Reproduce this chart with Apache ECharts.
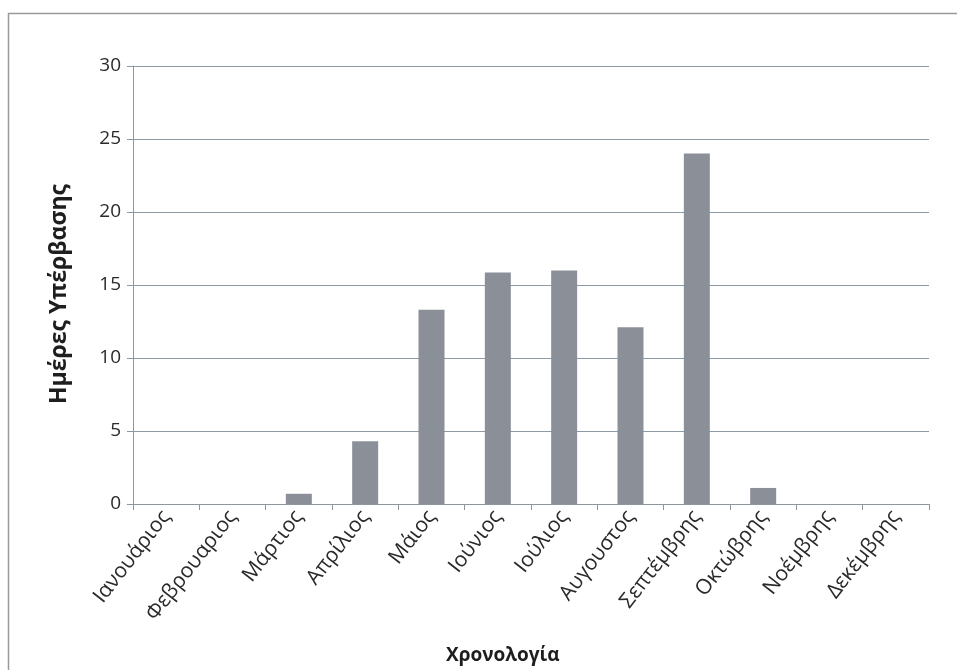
<!DOCTYPE html>
<html>
<head>
<meta charset="utf-8">
<script src="https://cdn.jsdelivr.net/npm/echarts@6/dist/echarts.min.js"></script>
<style>html,body{margin:0;padding:0;background:#fff}#c{width:957px;height:670px}</style>
</head>
<body>
<div id="c"></div>
<script>
const months = ["Ιανουάριος","Φεβρουαριος","Μάρτιος","Απρίλιος","Μάιος","Ιούνιος","Ιούλιος","Αυγουστος","Σεπτέμβρης","Οκτώβρης","Νοέμβρης","Δεκέμβρης"];
const exceedDays = [0, 0, 0.7, 4.3, 13.3, 15.85, 16.0, 12.1, 24.0, 1.1, 0, 0];
const yTitle = "Ημέρες Υπέρβασης";
const xTitle = "Χρονολογία";

const font = "Open Sans";
const chart = echarts.init(document.getElementById('c'), null, {renderer:'canvas'});
chart.setOption({
  animation: false,
  backgroundColor: '#fff',
  textStyle: {fontFamily: font},
  graphic: [{
    type: 'rect', shape: {x: 8.5, y: 13.5, width: 1000, height: 700},
    style: {fill: 'none', stroke: '#9a9a9a', lineWidth: 1.5}, silent: true
  }, {
    type: 'text', left: 446, top: 646, silent: true,
    style: {text: xTitle, font: 'bold 19px "Open Sans"', fill: '#1e1e1e'}
  }],
  grid: {left: 133, right: 28, top: 66, bottom: 166, containLabel: false},
  xAxis: {
    type: 'category', data: months,
    axisLine: {lineStyle: {color: '#8f969c', width: 1}},
    axisTick: {show: true, alignWithLabel: false, length: 6, lineStyle: {color: '#8f969c'}},
    axisLabel: {rotate: 52, fontSize: 21, color: '#2a2a2a', margin: 9, interval: 0, fontFamily: font}
  },
  yAxis: {
    type: 'value', min: 0, max: 30, interval: 5,
    name: yTitle, nameLocation: 'middle', nameGap: 62, nameRotate: 90,
    nameTextStyle: {fontFamily: font, fontWeight: 'bold', fontSize: 23, color: '#1e1e1e', padding: [0,18,0,0]},
    axisLine: {show: true, lineStyle: {color: '#8f969c'}},
    axisTick: {show: true, length: 6, inside: false, lineStyle: {color: '#8f969c'}},
    axisLabel: {fontSize: 19, color: '#2a2a2a', margin: 12, fontFamily: font},
    splitLine: {show: true, lineStyle: {color: '#8c9aa6', width: 1}}
  },
  series: [{
    type: 'bar', data: exceedDays, barWidth: 26,
    itemStyle: {color: '#8b9098'}
  }]
});
</script>
</body>
</html>
